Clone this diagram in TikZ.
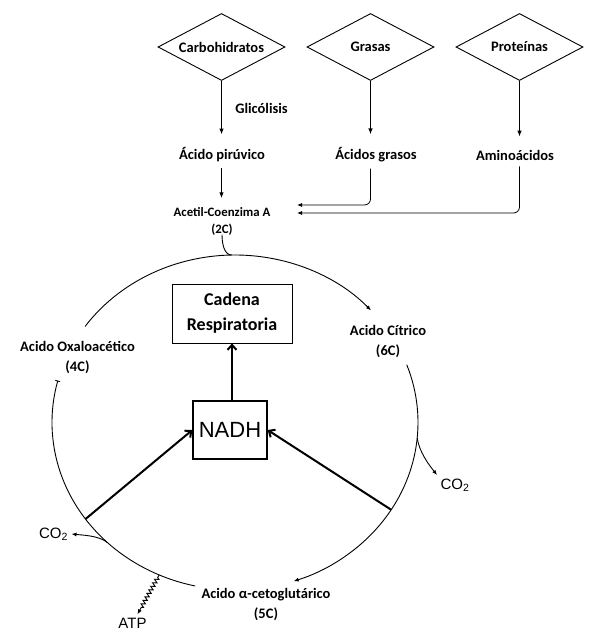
\documentclass[tikz,border=0pt]{standalone}
\usepackage{fontspec}
\setmainfont{Carlito}
\newfontfamily\arialfont{Liberation Sans}
\usetikzlibrary{shapes.geometric,arrows.meta,calc,decorations.pathmorphing}

\begin{document}
\begin{tikzpicture}[x=1pt, y=-1pt,
fuente/.style={diamond, draw=black, line width=0.9pt, aspect=1.9, minimum width=127pt, minimum height=67pt, inner sep=0pt, font=\fontsize{14.5}{17}\selectfont\bfseries},
etapa/.style={align=center, inner sep=2pt, font=\fontsize{14.5}{20}\selectfont\bfseries},
acetil/.style={align=center, inner sep=2pt, font=\fontsize{12.8}{17}\selectfont\bfseries},
caja/.style={rectangle, draw=black, line width=0.8pt, align=center, font=\fontsize{18}{25}\selectfont\bfseries},
nad/.style={rectangle, draw=black, line width=1.3pt, font=\arialfont\fontsize{22}{24}\selectfont},
gas/.style={font=\arialfont\fontsize{15}{17}\selectfont},
flecha/.style={-{Latex[length=6pt,width=4.5pt]}, line width=1.3pt},
fina/.style={-{Latex[length=5pt,width=4pt]}, line width=0.8pt},
ciclo/.style={line width=0.9pt},
gruesa/.style={-{Straight Barb[length=5pt,width=9pt]}, line width=2pt},
]
\useasboundingbox (0,0) rectangle (597,644);

\node[fuente] (carbo) at (221.5,47) {Carbohidratos};
\node[fuente] (grasas) at (370.5,47) {Grasas};
\node[fuente] (prot) at (519.5,47) {Proteínas};
\node[etapa] (glico) at (261.5,108) {Glicólisis};
\node[etapa] (piruv) at (222,155) {Ácido pirúvico};
\node[etapa] (acgras) at (376,155) {Ácidos grasos};
\node[etapa] (amino) at (515,155) {Aminoácidos};
\node[acetil] (acetil) at (222,221.5) {Acetil-Coenzima A\\(2C)};
\coordinate (entA) at (297,205);
\coordinate (entB) at (297,213);

\draw[flecha, shorten >=11pt] (carbo.south) -- (carbo.south |- piruv.north);
\draw[flecha, shorten >=11pt] (grasas.south) -- (grasas.south |- acgras.north);
\draw[flecha, shorten >=11pt] (prot.south) -- (prot.south |- amino.north);
\draw[flecha, shorten <=4pt, shorten >=7pt] (piruv.south -| carbo.south) -- (carbo.south |- acetil.north);
\draw[fina, rounded corners=6pt] ([yshift=-4pt]acgras.south -| grasas.south) |- (entA);
\draw[fina, rounded corners=6pt] ([yshift=-4pt]amino.south -| prot.south) |- (entB);

\node[caja, minimum width=120pt, minimum height=59pt] (cadena) at (232,313.5) {Cadena\\Respiratoria};
\node[nad, minimum width=74pt, minimum height=58pt] (nadh) at (230,430) {NADH};
\node[etapa] (oxal) at (77.5,357) {Acido Oxaloacético\\(4C)};
\node[etapa] (citr) at (388,342) {Acido Cítrico\\(6C)};
\node[etapa] (ceto) at (266,604.5) {Acido α-cetoglutárico\\(5C)};
\node[gas] (co2a) at (455,485) {CO\textsubscript{2}};
\node[gas] (co2b) at (53.5,534) {CO\textsubscript{2}};
\node[gas] (atp) at (132.5,623) {ATP};

\coordinate (centro) at (235,422.5);
\coordinate (pTop) at ($(centro)+(-91:183 and 167.5)$);
\coordinate (pA) at ($(centro)+(215:183 and 167.5)$);
\coordinate (pB) at ($(centro)+(-20.2:183 and 167.5)$);
\coordinate (pC) at ($(centro)+(102.6:183 and 167.5)$);
\coordinate (pGasA) at ($(centro)+(5.3:183 and 167.5)$);
\coordinate (pGasB) at ($(centro)+(134.2:183 and 167.5)$);
\coordinate (pAtp) at ($(centro)+(114.5:183 and 167.5)$);
\coordinate (pNadA) at ($(centro)+(31.4:183 and 167.5)$);
\coordinate (pNadB) at ($(centro)+(144.8:183 and 167.5)$);

\draw[ciclo, -{Latex[length=5pt,width=4pt]}] (pA) arc[start angle=215, end angle=318, x radius=183, y radius=167.5];
\draw[ciclo, -{Latex[length=5pt,width=4pt]}] (pB) arc[start angle=-20.2, end angle=71.3, x radius=183, y radius=167.5];
\draw[ciclo, -{Bar[width=5pt]}] (pC) arc[start angle=102.6, end angle=194.5, x radius=183, y radius=167.5];
\draw[ciclo] ([yshift=3pt]acetil.south) .. controls +(0,8) and +(-8,0) .. (pTop);
\draw[ciclo, -{Latex[length=5pt,width=4pt]}] (pGasA) .. controls +(2,14) and +(-8,-10) .. (co2a.north west);
\draw[ciclo, -{Latex[length=5pt,width=4pt]}] (pGasB) .. controls +(-8,-7) and +(10,1) .. (co2b.east);
\draw[ciclo, decorate, decoration={zigzag, amplitude=2pt, segment length=4pt, pre length=3pt, post length=6pt}, -{Latex[length=5pt,width=4pt]}] (pAtp) -- ([xshift=5pt]atp.north);

\draw[gruesa] (pNadB) -- (nadh.west);
\draw[gruesa] (pNadA) -- (nadh.east);
\draw[gruesa] (nadh.north -| cadena.south) -- (cadena.south);
\end{tikzpicture}
\end{document}
